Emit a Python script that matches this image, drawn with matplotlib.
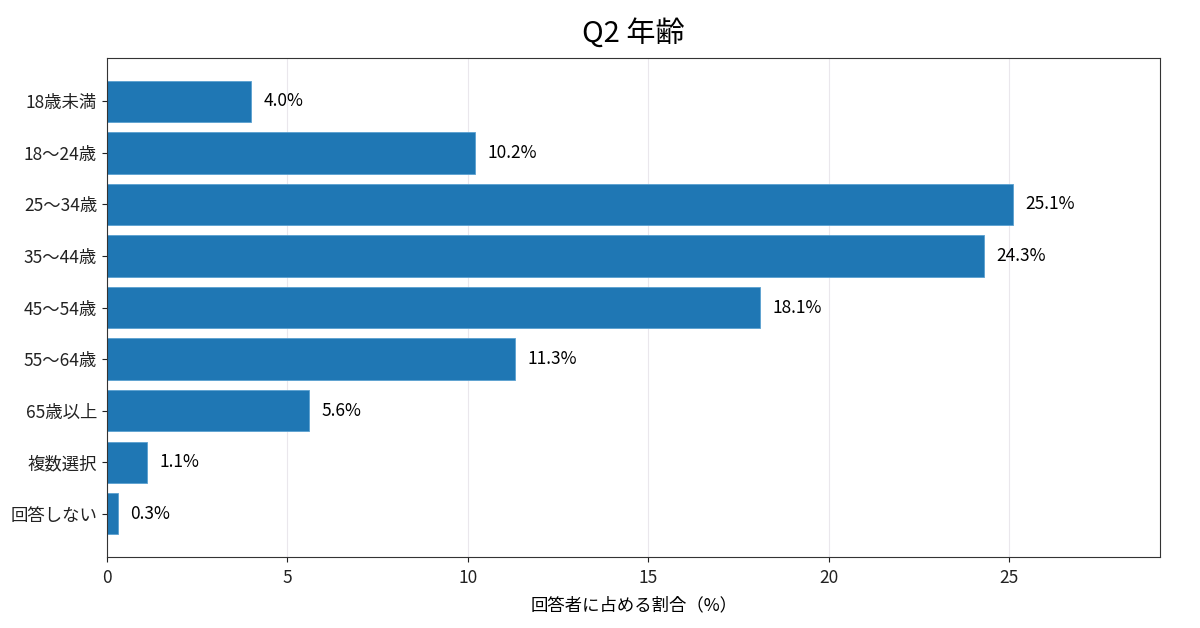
import matplotlib.pyplot as plt
import numpy as np

plt.rcParams['font.family'] = ['Noto Sans CJK JP', 'DejaVu Sans']

# Data
categories = ['18歳未満', '18〜24歳', '25〜34歳', '35〜44歳', '45〜54歳',
              '55〜64歳', '65歳以上', '複数選択', '回答しない']
values = [4.0, 10.2, 25.1, 24.3, 18.1, 11.3, 5.6, 1.1, 0.3]

fig, ax = plt.subplots(figsize=(12, 6.28), dpi=100)
fig.subplots_adjust(left=0.089, right=0.967, top=0.9076, bottom=0.113)

y = np.arange(len(categories))
ax.barh(y, values, height=0.8, color='#1f77b4', edgecolor='#5aa0d0', linewidth=0.6)
ax.set_yticks(y)
ax.set_yticklabels(categories, fontsize=12.5)
ax.invert_yaxis()

for yi, v in zip(y, values):
    ax.text(v + 0.35, yi, f'{v:.1f}%', va='center', ha='left', fontsize=12.5)

ax.set_xlim(0, max(values) * 1.163)
ax.tick_params(axis='x', labelsize=12.5, pad=5)
ax.tick_params(colors='#222222')
for s in ax.spines.values():
    s.set_color('#333333')
ax.set_xlabel('回答者に占める割合（%）', fontsize=12.5, labelpad=7)
ax.set_title('Q2 年齢', fontsize=21, pad=12)
ax.grid(axis='x', color='#ddd8e0', alpha=0.6, linewidth=0.8)
ax.set_axisbelow(True)

plt.savefig('out.png', dpi=100)
